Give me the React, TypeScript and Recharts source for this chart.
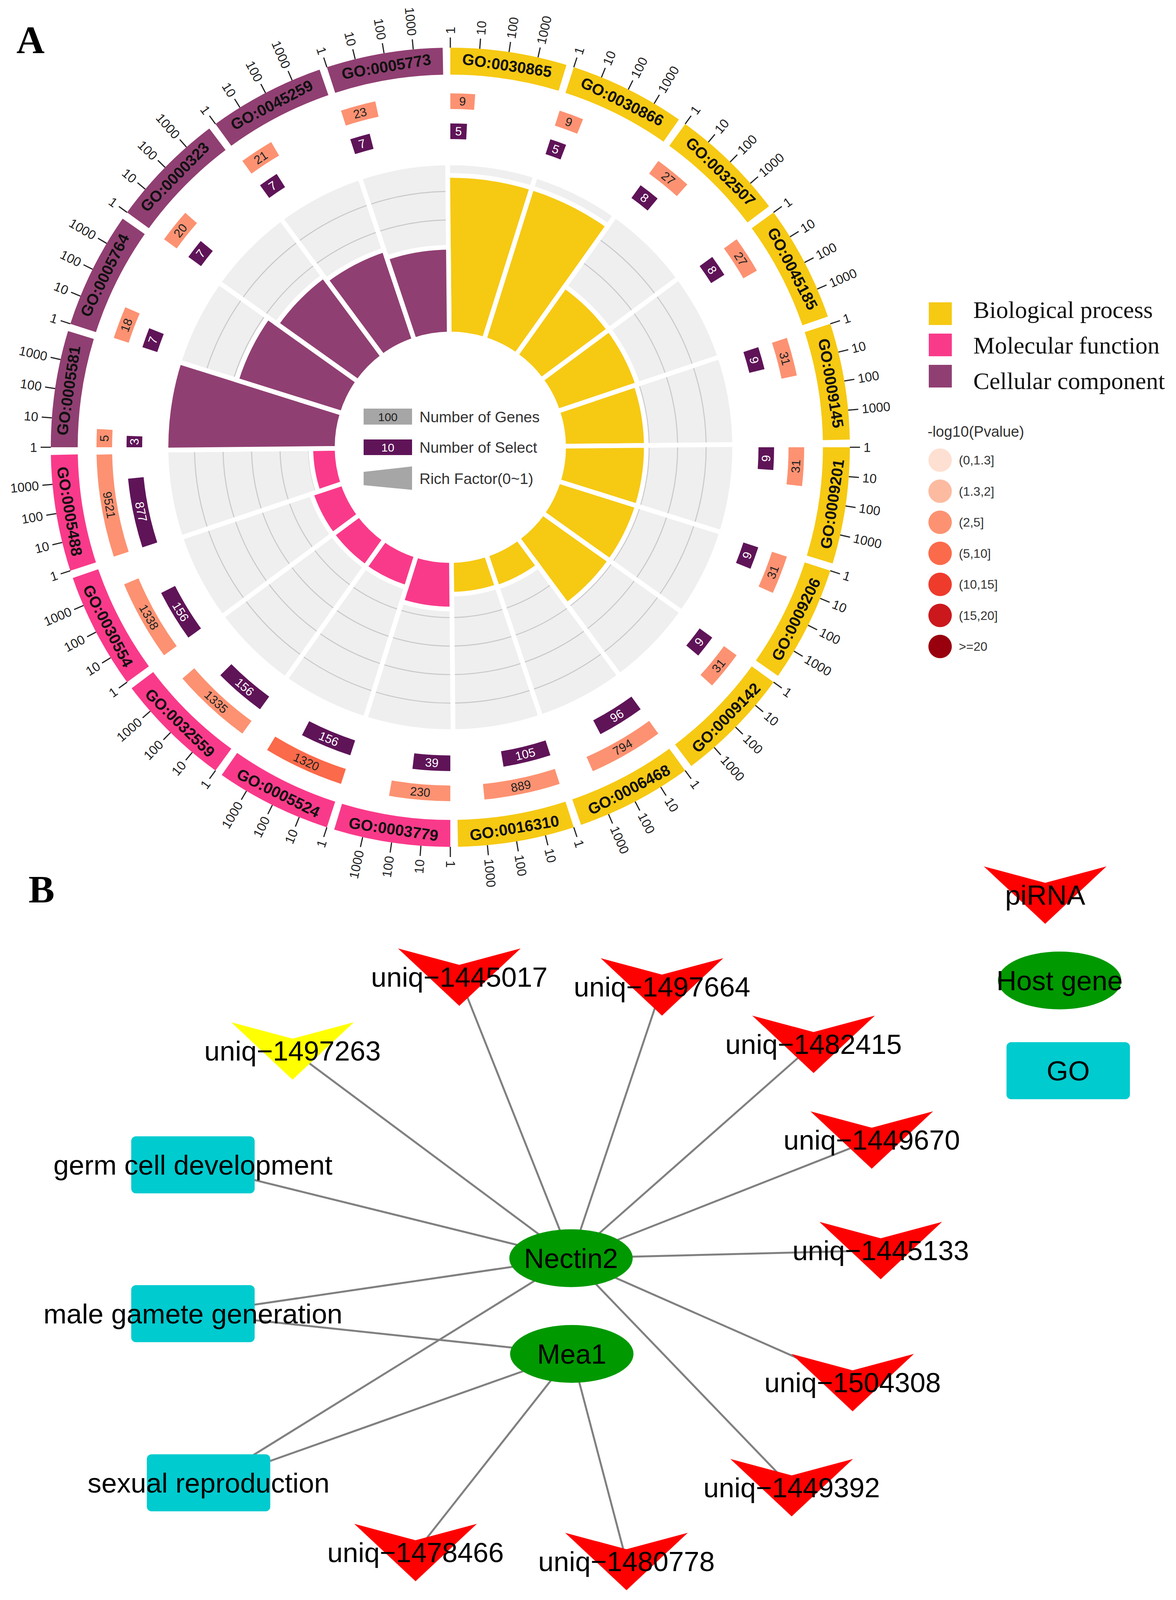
import React from 'react';
import {
  PieChart, Pie, Cell, RadialBarChart, RadialBar, PolarAngleAxis, PolarRadiusAxis,
  ScatterChart, Scatter, XAxis, YAxis,
} from 'recharts';

// ================= Panel A data =================
const goIds = [
  'GO:0030865', 'GO:0030866', 'GO:0032507', 'GO:0045185', 'GO:0009145',
  'GO:0009201', 'GO:0009206', 'GO:0009142', 'GO:0006468', 'GO:0016310',
  'GO:0003779', 'GO:0005524', 'GO:0032559', 'GO:0030554', 'GO:0005488',
  'GO:0005581', 'GO:0005764', 'GO:0000323', 'GO:0045259', 'GO:0005773',
];
const goCategories = [
  'BP', 'BP', 'BP', 'BP', 'BP', 'BP', 'BP', 'BP', 'BP', 'BP',
  'MF', 'MF', 'MF', 'MF', 'MF',
  'CC', 'CC', 'CC', 'CC', 'CC',
];
const geneCounts = [9, 9, 27, 27, 31, 31, 31, 31, 794, 889, 230, 1320, 1335, 1338, 9521, 5, 18, 20, 21, 23];
const selectCounts = [5, 5, 8, 8, 9, 9, 9, 9, 96, 105, 39, 156, 156, 156, 877, 3, 7, 7, 7, 7];
const richFactors = [0.556, 0.556, 0.296, 0.296, 0.29, 0.29, 0.29, 0.29, 0.121, 0.118, 0.17, 0.118, 0.117, 0.117, 0.092, 0.6, 0.389, 0.35, 0.333, 0.304];
const pvalueBins = [2, 2, 2, 2, 2, 2, 2, 2, 2, 2, 2, 3, 2, 2, 2, 2, 2, 2, 2, 2];
const countTickLabels = ['1', '10', '100', '1000'];
const richGridTicks = [0.1, 0.2, 0.3, 0.4, 0.5];
const categoryKeys = ['BP', 'MF', 'CC'];
const categoryNames = ['Biological process', 'Molecular function', 'Cellular component'];
const pvalueLabels = ['(0,1.3]', '(1.3,2]', '(2,5]', '(5,10]', '(10,15]', '(15,20]', '>=20'];

// ================= Panel B data =================
const piRnaNodes = [
  { name: 'uniq\u22121445017', x: 1176, y: 2801 },
  { name: 'uniq\u22121497664', x: 1695, y: 2826 },
  { name: 'uniq\u22121482415', x: 2083, y: 2973 },
  { name: 'uniq\u22121449670', x: 2232, y: 3218 },
  { name: 'uniq\u22121445133', x: 2255, y: 3501 },
  { name: 'uniq\u22121504308', x: 2183, y: 3839 },
  { name: 'uniq\u22121449392', x: 2027, y: 4108 },
  { name: 'uniq\u22121480778', x: 1604, y: 4297 },
  { name: 'uniq\u22121478466', x: 1064, y: 4274 },
];
const highlightedPiRnaNodes = [{ name: 'uniq\u22121497263', x: 749, y: 2990 }];
const hostGeneNodes = [
  { name: 'Nectin2', x: 1462, y: 3521 },
  { name: 'Mea1', x: 1464, y: 3766 },
];
const goTermNodes = [
  { name: 'germ cell development', x: 494, y: 3282 },
  { name: 'male gamete generation', x: 494, y: 3663 },
  { name: 'sexual reproduction', x: 534, y: 4096 },
];
const networkEdges = [
  ['Nectin2', 'uniq\u22121445017'], ['Nectin2', 'uniq\u22121497664'], ['Nectin2', 'uniq\u22121482415'],
  ['Nectin2', 'uniq\u22121449670'], ['Nectin2', 'uniq\u22121445133'], ['Nectin2', 'uniq\u22121504308'],
  ['Nectin2', 'uniq\u22121449392'], ['Nectin2', 'uniq\u22121497263'], ['Nectin2', 'germ cell development'],
  ['Nectin2', 'male gamete generation'], ['Nectin2', 'sexual reproduction'],
  ['Mea1', 'male gamete generation'], ['Mea1', 'sexual reproduction'],
  ['Mea1', 'uniq\u22121478466'], ['Mea1', 'uniq\u22121480778'],
];
const legendPiRna = [{ name: 'piRNA', x: 2676, y: 2591 }];
const legendHostGene = [{ name: 'Host gene', x: 2713, y: 2810 }];
const legendGo = [{ name: 'GO', x: 2735, y: 3041 }];

// ================= styles / layout =================
const FONT = '"Liberation Sans", Arial, sans-serif';
const SERIF = '"Liberation Serif", "Times New Roman", serif';
const catColor: Record<string, string> = { BP: '#f6c913', MF: '#f93a8a', CC: '#903f72' };
const selectColor = '#5f1458';
const pvalueColors = ['#fee0d2', '#fcbba1', '#fc9272', '#fb6a4a', '#ef3b2c', '#cb181d', '#99000d'];
const RAD = Math.PI / 180;
const CX = 1145;
const CY = 1137;
const GAP = 1.1;
const SECTOR = 360 / goIds.length;
const SPAN = SECTOR - GAP;
const LOG_MAX = 4;
const RICH_MAX = 0.6;
const R = {
  rich0: 290, rich1: 728, sel0: 789, sel1: 829, gene0: 866, gene1: 906,
  go0: 954, go1: 1023, tick1: 1049, tickText: 1058,
};
const SEP = 12;
// the photographed window is shorter than the reference, so panel B is lifted to stay fully visible
const B_SHIFT = 300;
const PAGE_H = 4080;
// the radial bar bands are laid out counter-clockwise from their start, so the frame starts one band earlier
const RICH_START = 90 + GAP / 2 - SECTOR;

const goData = goIds.map((id, i) => ({ id, cat: goCategories[i], value: 1 }));
const richData = goIds.map((id, i) => ({ id, cat: goCategories[i], rich: richFactors[i] }));

const tickRingData = goIds.flatMap((id, i) => [
  ...countTickLabels.map((t) => ({ kind: 'tick', txt: t, idx: i, value: SPAN / countTickLabels.length })),
  { kind: 'gap', txt: '', idx: i, value: GAP },
]);

const countRing = (counts: number[]) => counts.flatMap((n, i) => {
  const arc = (SPAN * Math.log10(n)) / LOG_MAX;
  return [
    { kind: 'bar', idx: i, count: n, value: arc },
    { kind: 'rest', idx: i, count: n, value: SECTOR - arc },
  ];
});
const geneRingData = countRing(geneCounts);
const selectRingData = countRing(selectCounts);
const bgData = goIds.map((id) => ({ id, value: 1 }));

const toClock = (a: number) => (((90 - a) % 360) + 360) % 360;
const pt = (r: number, t: number) => ({ x: CX + r * Math.sin(t * RAD), y: CY - r * Math.cos(t * RAD) });
const tangentRot = (t: number) => (t > 90 && t < 270 ? t - 180 : t);
const pick = (p: any) => (p && p.payload && (p.payload.kind !== undefined || p.payload.id !== undefined) ? p.payload : p);

const goLabel = (props: any) => {
  const d = pick(props);
  const t = toClock(props.midAngle);
  const p = pt((R.go0 + R.go1) / 2, t);
  return (
    <text x={p.x} y={p.y} transform={`rotate(${tangentRot(t)} ${p.x} ${p.y})`} textAnchor="middle"
      dominantBaseline="central" fontSize={40} fontWeight="bold" fontFamily={FONT} fill="#111">
      {d.id}
    </text>
  );
};

const tickLabel = (props: any) => {
  const d = pick(props);
  if (d.kind !== 'tick') return null;
  const t = toClock(props.startAngle);
  const a = pt(R.go1, t);
  const b = pt(R.tick1, t);
  const c = pt(R.tickText, t);
  const right = t < 180;
  const rot = right ? t - 90 : t + 90;
  return (
    <g>
      <line x1={a.x} y1={a.y} x2={b.x} y2={b.y} stroke="#222" strokeWidth={3} />
      <text x={c.x} y={c.y} transform={`rotate(${rot} ${c.x} ${c.y})`} textAnchor={right ? 'start' : 'end'}
        dominantBaseline="central" fontSize={33} fontFamily={FONT} fill="#222">
        {d.txt}
      </text>
    </g>
  );
};

const countLabel = (color: string) => (props: any) => {
  const d = pick(props);
  if (d.kind !== 'bar') return null;
  const t = toClock(props.midAngle);
  const p = pt((props.innerRadius + props.outerRadius) / 2, t);
  return (
    <text x={p.x} y={p.y} transform={`rotate(${tangentRot(t)} ${p.x} ${p.y})`} textAnchor="middle"
      dominantBaseline="central" fontSize={31} fontFamily={FONT} fill={color}>
      {d.count}
    </text>
  );
};

const richRadius = (v: number) => R.rich0 + (v / RICH_MAX) * (R.rich1 - R.rich0);

// ================= Panel B shapes =================
const veePoints = [[-157, -73], [0, -31], [157, -73], [0, 74]];
const nodeText = (x: number, y: number, s: string) => (
  <text x={x} y={y + 25} textAnchor="middle" fontSize={71} fontFamily={FONT} fill="#000">{s}</text>
);
const veeShape = (fill: string) => (props: any) => {
  const { cx, cy, payload } = props;
  const pts = veePoints.map(([dx, dy]) => `${cx + dx},${cy + dy}`).join(' ');
  return (
    <g>
      <polygon points={pts} fill={fill} />
      {nodeText(cx, cy, payload.name)}
    </g>
  );
};
const ellipseShape = (props: any) => {
  const { cx, cy, payload } = props;
  return (
    <g>
      <ellipse cx={cx} cy={cy} rx={158} ry={74} fill="#009900" />
      {nodeText(cx, cy, payload.name)}
    </g>
  );
};
const rectShape = (props: any) => {
  const { cx, cy, payload } = props;
  return (
    <g>
      <rect x={cx - 158} y={cy - 73} width={316} height={146} rx={12} ry={12} fill="#00cbcf" />
      {nodeText(cx, cy, payload.name)}
    </g>
  );
};
const noShape = () => <g />;

const allNodes = [...piRnaNodes, ...highlightedPiRnaNodes, ...hostGeneNodes, ...goTermNodes];
const findNode = (n: string) => allNodes.find((d) => d.name === n)!;
const edgeSegments = networkEdges.map(([a, b]) => {
  const p = findNode(a);
  const q = findNode(b);
  return [{ x: p.x, y: p.y }, { x: q.x, y: q.y }];
});

const layer: React.CSSProperties = { position: 'absolute', left: 0, top: 0 };

export default function App() {
  return (
    <div style={{ position: 'relative', width: 2995, height: PAGE_H, background: '#fff', overflow: 'hidden' }}>
      {/* Rings: GO boxes, ticks, gene counts, select counts, rich factor background */}
      <div style={layer}>
        <PieChart width={2300} height={2300} margin={{ top: 0, right: 0, bottom: 0, left: 0 }}>
          <Pie data={bgData} dataKey="value" cx={CX} cy={CY} innerRadius={R.rich0} outerRadius={R.rich1}
            startAngle={90 + GAP / 2} endAngle={-270 + GAP / 2} paddingAngle={0} fill="#efefef"
            stroke="#ffffff" strokeWidth={SEP} isAnimationActive={false} />
          {richGridTicks.map((g) => {
            const r = richRadius(g);
            const pad = SEP / r / RAD;
            const s = 90 + GAP / 2 - pad / 2;
            return (
              <Pie key={`grid${g}`} data={bgData} dataKey="value" cx={CX} cy={CY} innerRadius={r - 1.3}
                outerRadius={r + 1.3} startAngle={s} endAngle={s - 360} paddingAngle={pad}
                fill="#c9c9c9" stroke="none" isAnimationActive={false} />
            );
          })}
          <Pie data={goData} dataKey="value" cx={CX} cy={CY} innerRadius={R.go0} outerRadius={R.go1}
            startAngle={90} endAngle={-270} paddingAngle={GAP} stroke="none" label={goLabel}
            labelLine={false} isAnimationActive={false}>
            {goData.map((d) => <Cell key={d.id} fill={catColor[d.cat]} />)}
          </Pie>
          <Pie data={tickRingData} dataKey="value" cx={CX} cy={CY} innerRadius={R.go1} outerRadius={R.tick1}
            startAngle={90} endAngle={-270} paddingAngle={0} fill="none" stroke="none" label={tickLabel}
            labelLine={false} isAnimationActive={false} />
          <Pie data={geneRingData} dataKey="value" cx={CX} cy={CY} innerRadius={R.gene0} outerRadius={R.gene1}
            startAngle={90} endAngle={-270} paddingAngle={0} stroke="none" label={countLabel('#222')}
            labelLine={false} isAnimationActive={false}>
            {geneRingData.map((d, k) => (
              <Cell key={`g${k}`} fill={d.kind === 'bar' ? pvalueColors[pvalueBins[d.idx]] : 'none'} />
            ))}
          </Pie>
          <Pie data={selectRingData} dataKey="value" cx={CX} cy={CY} innerRadius={R.sel0} outerRadius={R.sel1}
            startAngle={90} endAngle={-270} paddingAngle={0} stroke="none" label={countLabel('#ffffff')}
            labelLine={false} isAnimationActive={false}>
            {selectRingData.map((d, k) => (
              <Cell key={`s${k}`} fill={d.kind === 'bar' ? selectColor : 'none'} />
            ))}
          </Pie>
        </PieChart>
      </div>

      {/* Rich factor bars */}
      <div style={layer}>
        <RadialBarChart width={2300} height={2300} data={richData} layout="centric" cx={CX} cy={CY}
          innerRadius={R.rich0} outerRadius={R.rich1} startAngle={RICH_START} endAngle={RICH_START - 360}
          barCategoryGap="0%" margin={{ top: 0, right: 0, bottom: 0, left: 0 }}>
          <PolarAngleAxis type="category" dataKey="id" tick={false} axisLine={false} tickLine={false} />
          <PolarRadiusAxis type="number" dataKey="rich" domain={[0, RICH_MAX]} allowDataOverflow
            allowDecimals tickCount={7} tick={false} axisLine={false} />
          <RadialBar dataKey="rich" stroke="#ffffff" strokeWidth={SEP} isAnimationActive={false}>
            {richData.map((d) => <Cell key={d.id} fill={catColor[d.cat]} />)}
          </RadialBar>
        </RadialBarChart>
      </div>

      {/* Legends and panel letters */}
      <svg style={layer} width={2995} height={PAGE_H}>
        <text x={34} y={128} fontSize={100} fontWeight="bold" fontFamily={SERIF} fill="#000">A</text>
        <rect x={923} y={1038} width={124} height={41} fill="#a6a6a6" />
        <text x={985} y={1059} textAnchor="middle" dominantBaseline="central" fontSize={30} fontFamily={FONT} fill="#222">100</text>
        <text x={1066} y={1059} dominantBaseline="central" fontSize={39} fontFamily={FONT} fill="#333">Number of Genes</text>
        <rect x={923} y={1117} width={124} height={40} fill={selectColor} />
        <text x={985} y={1137} textAnchor="middle" dominantBaseline="central" fontSize={30} fontFamily={FONT} fill="#fff">10</text>
        <text x={1066} y={1137} dominantBaseline="central" fontSize={39} fontFamily={FONT} fill="#333">Number of Select</text>
        <polygon points="923,1200 1047,1186 1047,1246 923,1234" fill="#a6a6a6" />
        <text x={1066} y={1217} dominantBaseline="central" fontSize={39} fontFamily={FONT} fill="#333">Rich Factor(0~1)</text>

        {categoryKeys.map((k, i) => (
          <g key={k}>
            <rect x={2370} y={766 + i * 80} width={59} height={58} fill={catColor[k]} />
            <text x={2484} y={806 + i * 91} fontSize={62} fontFamily={SERIF} fill="#111">{categoryNames[i]}</text>
          </g>
        ))}
        <text x={2367} y={1110} fontSize={38} fontFamily={FONT} fill="#333">-log10(Pvalue)</text>
        {pvalueLabels.map((l, i) => (
          <g key={l}>
            <circle cx={2399} cy={1170 + i * 79.5} r={30} fill={pvalueColors[i]} />
            <text x={2447} y={1170 + i * 79.5 + 11} fontSize={32} fontFamily={FONT} fill="#333">{l}</text>
          </g>
        ))}
        <text x={65} y={2602 - B_SHIFT} fontSize={100} fontWeight="bold" fontFamily={SERIF} fill="#000">B</text>
      </svg>

      {/* Network */}
      <div style={{ position: 'absolute', left: 0, top: 2392 - B_SHIFT }}>
        <ScatterChart width={2995} height={1986} margin={{ top: 0, right: 0, bottom: 0, left: 0 }}>
          <XAxis type="number" dataKey="x" domain={[8, 3003]} hide allowDataOverflow />
          <YAxis type="number" dataKey="y" domain={[2400, 4386]} reversed hide allowDataOverflow />
          {edgeSegments.map((seg, k) => (
            <Scatter key={`e${k}`} data={seg} fill="#808080" line={{ stroke: '#808080', strokeWidth: 5 }}
              shape={noShape} isAnimationActive={false} legendType="none" />
          ))}
          <Scatter data={goTermNodes} shape={rectShape} isAnimationActive={false} />
          <Scatter data={hostGeneNodes} shape={ellipseShape} isAnimationActive={false} />
          <Scatter data={piRnaNodes} shape={veeShape('#ff0000')} isAnimationActive={false} />
          <Scatter data={highlightedPiRnaNodes} shape={veeShape('#ffff00')} isAnimationActive={false} />
          <Scatter data={legendPiRna} shape={veeShape('#ff0000')} isAnimationActive={false} />
          <Scatter data={legendHostGene} shape={ellipseShape} isAnimationActive={false} />
          <Scatter data={legendGo} shape={rectShape} isAnimationActive={false} />
        </ScatterChart>
      </div>
    </div>
  );
}
